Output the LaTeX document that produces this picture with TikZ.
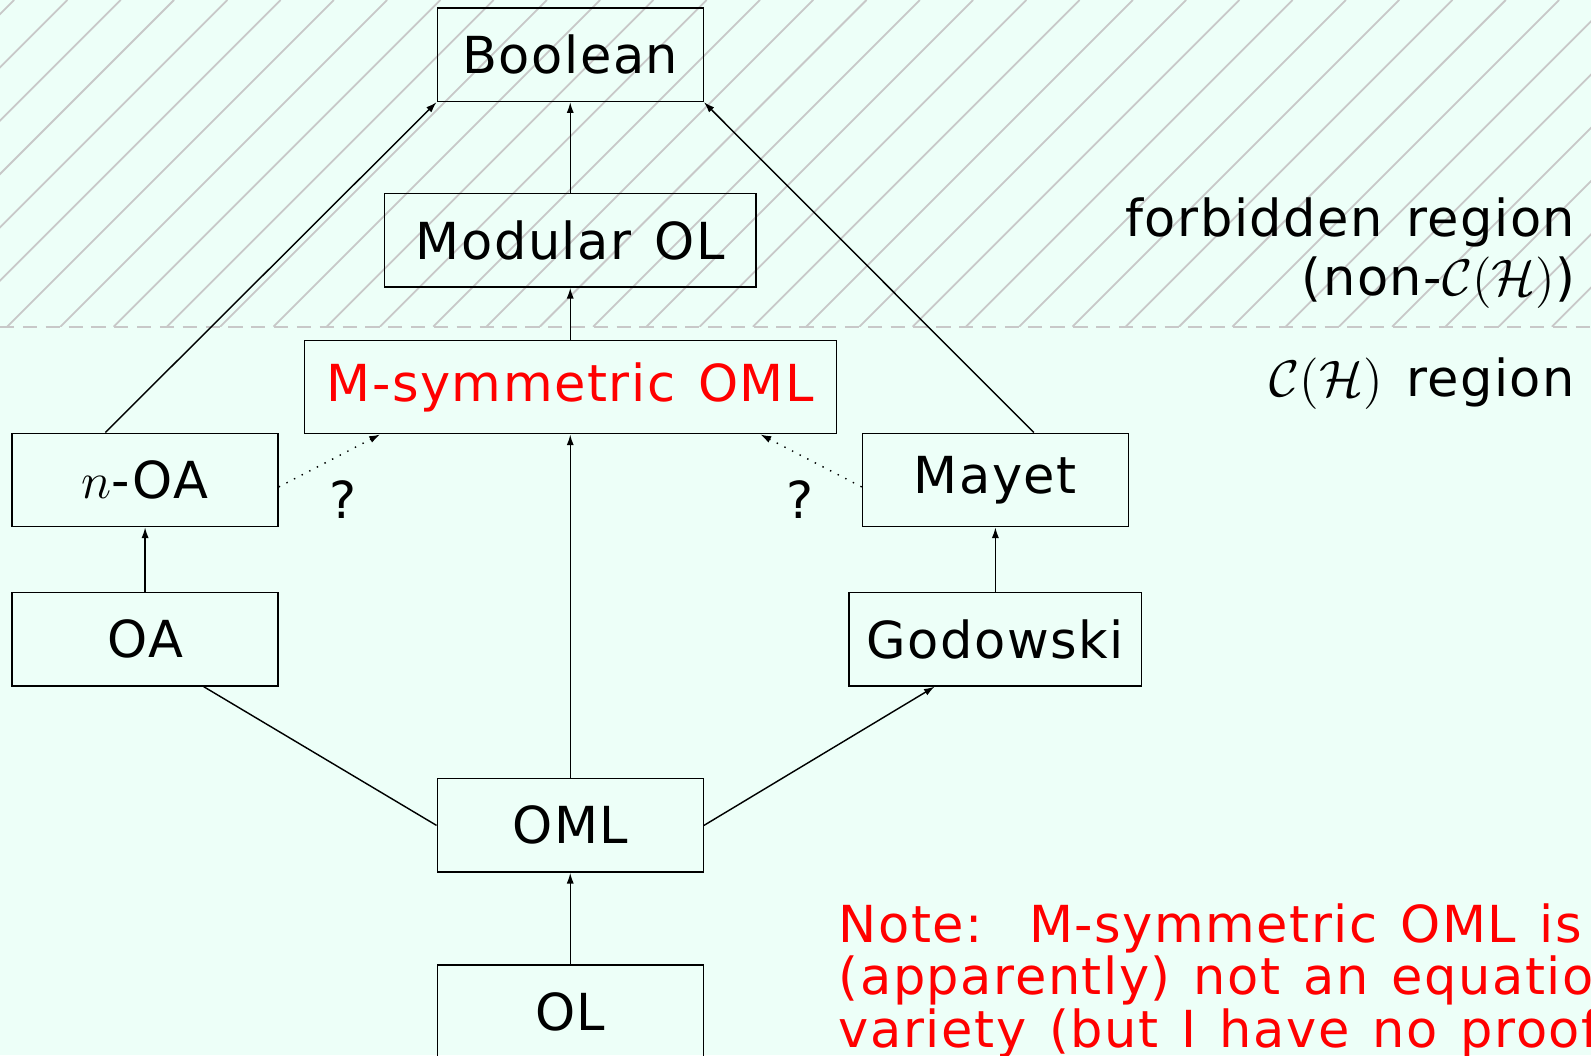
\documentclass[tikz,border=0pt]{standalone}
\usepackage{fontspec}
\setmainfont{DejaVu Sans}[LetterSpace=3, WordSpace=1.3]
\usetikzlibrary{arrows.meta}

\definecolor{bgmint}{RGB}{237,255,248}
\definecolor{hatchgray}{RGB}{200,200,200}

\tikzset{
	variety/.style={draw, thin, inner sep=0pt, minimum width=2.62cm, minimum height=0.92cm},
	hatch/.style={hatchgray, line width=0.5pt},
}

\begin{document}
\begin{tikzpicture}[x=0.01cm, y=0.01cm, >={Latex[length=3pt,width=2pt]},
		font=\fontsize{14.3}{16}\selectfont]
			\useasboundingbox (0,0) rectangle (1568,1040);
			\fill[bgmint] (0,0) rectangle (1568,1040);
			
			%forbidden region
			\begin{scope}
				\clip (0,718) rectangle (1568,1040);
				\foreach \k in {-7, -6, ..., 30}{
					\draw[hatch] (7+52.5*\k, 718) -- ++(322, 322);
				}
			\end{scope}
			\draw[hatchgray, line width=0.6pt, dash pattern=on 4pt off 2.4pt] (0,718) -- (1568,718);
			
			%varieties
			\node[variety] (Boolean) at (562, 986) {Boolean};
			\node[variety, minimum width=3.66cm] (ModOL) at (562, 803) {Modular OL};
			\node[variety, minimum width=5.24cm, text=red] (Msym) at (562, 658.5) {M-symmetric OML};
			\node[variety] (nOA) at (143, 567) {$n$-OA};
			\node[variety] (Mayet) at (981, 567) {Mayet};
			\node[variety] (OA) at (143, 410) {OA};
			\node[variety, minimum width=2.88cm] (Godowski) at (981, 410) {Godowski};
			\node[variety] (OML) at (562, 226.5) {OML};
			\node[variety] (OL) at (562, 43) {OL};
			
			%inclusions
			\draw[->] (ModOL) -- (Boolean);
			\draw[->] (Msym) -- (ModOL);
			\draw[->] (nOA.130) -- (Boolean.south west);
			\draw[->] (Mayet.51) -- (Boolean.south east);
			\draw[->] (OML) -- (Msym);
			\draw[->] (OA) -- (nOA);
			\draw[->] (Godowski) -- (Mayet);
			\draw (OML.west) -- (OA.-39);
			\draw[->] (OML.east) -- (Godowski.218);
			\draw[->] (OL) -- (OML);
			\draw[dotted, ->] (nOA.-3) -- (Msym.194);
			\draw[dotted, ->] (Mayet.183) -- (Msym.-14);
			\node (q1) at (338, 548) {?};
			\node (q2) at (788, 548) {?};
			
			%regions
			\node[anchor=east, align=right, inner sep=0pt, font=\fontsize{14.3}{16.5}\selectfont] (forbidden) at (1553, 791)
				{forbidden region\\(non-$\mathcal{C}(\mathcal{H})$)};
			\node[anchor=east, inner sep=0pt] (allowed) at (1553, 662) {$\mathcal{C}(\mathcal{H})$ region};
			
			%note
			\node[anchor=north west, align=left, inner sep=0pt, text=red, font=\fontsize{14.3}{14.7}\selectfont] (note) at (826, 150)
				{Note:\ \ M-symmetric OML is\\(apparently) not an equational\\variety (but I have no proof)};
		\end{tikzpicture}
\end{document}
